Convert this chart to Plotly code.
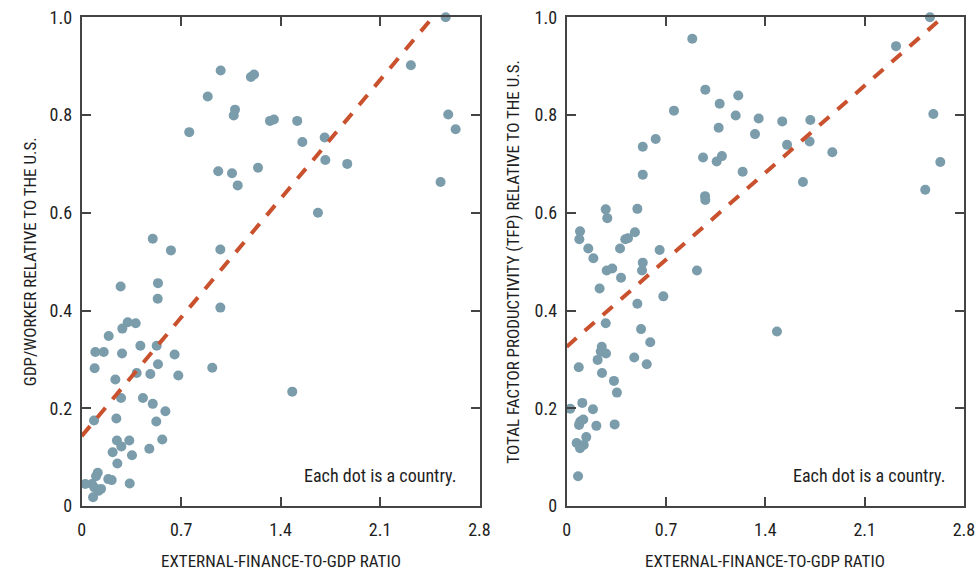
import plotly.graph_objects as go

# ---- data ----
gdp_x = [2.562, 2.317, 2.58, 2.632, 2.526, 0.978, 0.887, 0.757, 1.191, 1.213,
         1.079, 1.07, 1.325, 1.353, 1.517, 1.553, 1.71, 1.715, 1.869, 0.961,
         1.058, 1.098, 1.241, 1.663, 0.5, 0.628, 0.976, 0.274, 0.537, 0.535,
         0.976, 0.324, 0.38, 0.286, 0.19, 0.096, 0.155, 0.284, 0.413, 0.528,
         0.654, 0.091, 0.537, 0.919, 0.68, 0.387, 0.483, 0.237, 0.277, 0.431,
         1.482, 0.5, 0.589, 0.087, 0.244, 0.525, 0.248, 0.335, 0.567, 0.279,
         0.218, 0.476, 0.354, 0.251, 0.113, 0.101, 0.187, 0.211, 0.338, 0.025,
         0.072, 0.089, 0.136, 0.117, 0.08]
gdp_y = [1.0, 0.902, 0.801, 0.771, 0.663, 0.891, 0.838, 0.765, 0.878, 0.883,
         0.811, 0.799, 0.788, 0.791, 0.788, 0.745, 0.754, 0.708, 0.700, 0.685,
         0.681, 0.656, 0.692, 0.600, 0.547, 0.523, 0.525, 0.449, 0.456, 0.424,
         0.406, 0.376, 0.374, 0.363, 0.348, 0.315, 0.315, 0.312, 0.328, 0.328,
         0.310, 0.282, 0.290, 0.283, 0.267, 0.272, 0.270, 0.259, 0.221, 0.221,
         0.234, 0.209, 0.194, 0.175, 0.179, 0.173, 0.134, 0.134, 0.136, 0.122,
         0.110, 0.117, 0.104, 0.087, 0.068, 0.061, 0.055, 0.053, 0.046, 0.045,
         0.045, 0.038, 0.035, 0.031, 0.018]

tfp_x = [2.56, 2.321, 2.584, 2.633, 2.527, 0.885, 0.977, 1.209, 1.078, 0.756,
         1.191, 1.353, 1.519, 1.717, 1.071, 1.327, 0.627, 0.536, 1.553, 1.712,
         1.872, 0.961, 1.057, 1.094, 1.24, 0.536, 1.665, 0.975, 0.977, 0.275,
         0.286, 0.498, 0.094, 0.089, 0.152, 0.376, 0.413, 0.432, 0.481, 0.655,
         0.188, 0.536, 0.531, 0.282, 0.321, 0.918, 0.383, 0.232, 0.681, 0.498,
         0.275, 0.524, 1.482, 0.589, 0.247, 0.24, 0.277, 0.218, 0.476, 0.564,
         0.085, 0.249, 0.333, 0.354, 0.11, 0.025, 0.185, 0.117, 0.096, 0.087,
         0.209, 0.338, 0.138, 0.07, 0.12, 0.094, 0.08]
tfp_y = [1.0, 0.941, 0.802, 0.704, 0.647, 0.956, 0.852, 0.840, 0.823, 0.809,
         0.799, 0.793, 0.787, 0.790, 0.774, 0.761, 0.751, 0.735, 0.739, 0.746,
         0.724, 0.713, 0.705, 0.716, 0.684, 0.678, 0.663, 0.634, 0.626, 0.607,
         0.589, 0.608, 0.562, 0.546, 0.527, 0.527, 0.546, 0.548, 0.560, 0.524,
         0.507, 0.498, 0.482, 0.482, 0.486, 0.482, 0.467, 0.445, 0.429, 0.414,
         0.374, 0.362, 0.357, 0.335, 0.326, 0.316, 0.312, 0.299, 0.304, 0.290,
         0.284, 0.272, 0.256, 0.232, 0.211, 0.199, 0.198, 0.177, 0.173, 0.166,
         0.164, 0.167, 0.141, 0.129, 0.125, 0.118, 0.061]

trend_gdp_x = [0.0, 2.47]
trend_gdp_y = [0.143, 1.0]
trend_tfp_x = [0.0, 2.63]
trend_tfp_y = [0.326, 0.995]

x_ticks = [0, 0.7, 1.4, 2.1, 2.8]
x_tick_labels = ["0", "0.7", "1.4", "2.1", "2.8"]
y_ticks = [0, 0.2, 0.4, 0.6, 0.8, 1.0]
y_tick_labels = ["0", "0.2", "0.4", "0.6", "0.8", "1.0"]

x_title = "EXTERNAL-FINANCE-TO-GDP RATIO"
y_title_left = "GDP/WORKER RELATIVE TO THE U.S."
y_title_right = "TOTAL FACTOR PRODUCTIVITY (TFP) RELATIVE TO THE U.S."
note = "Each dot is a country."

# ---- styling ----
FONT = "Liberation Sans Narrow, Arial Narrow, Roboto Condensed, sans-serif"
DOT = "#7a9cab"
LINE = "#c9512e"
AX = "#444444"
TXT = "#1e1e1e"

W, H = 977, 576
lx0, lx1 = 81.7 / W, 479.5 / W
rx0, rx1 = 566.7 / W, 964.0 / W
yb, yt = (H - 506) / H, (H - 17.3) / H

fig = go.Figure()
fig.add_trace(go.Scatter(x=gdp_x, y=gdp_y, mode="markers", xaxis="x", yaxis="y",
                         marker=dict(color=DOT, size=10), cliponaxis=False, showlegend=False))
fig.add_trace(go.Scatter(x=trend_gdp_x, y=trend_gdp_y, mode="lines", xaxis="x", yaxis="y",
                         line=dict(color=LINE, width=4, dash="13px,11px"), showlegend=False))
fig.add_trace(go.Scatter(x=tfp_x, y=tfp_y, mode="markers", xaxis="x2", yaxis="y2",
                         marker=dict(color=DOT, size=10), cliponaxis=False, showlegend=False))
fig.add_trace(go.Scatter(x=trend_tfp_x, y=trend_tfp_y, mode="lines", xaxis="x2", yaxis="y2",
                         line=dict(color=LINE, width=4, dash="13px,11px"), showlegend=False))

tick_font = dict(family=FONT, size=18, color=TXT, weight="normal")

def xax(domain, anchor):
    return dict(domain=domain, anchor=anchor, range=[0, 2.8], tickvals=x_ticks,
                ticktext=x_tick_labels, ticks="inside", ticklen=9, tickwidth=1.5,
                tickcolor=AX, showline=True, linecolor=AX, linewidth=2, mirror="allticks",
                showgrid=False, zeroline=False, tickfont=tick_font, ticklabelstandoff=6)

def yax(anchor):
    return dict(domain=[yb, yt], anchor=anchor, range=[0, 1.0], tickvals=y_ticks,
                ticktext=y_tick_labels, ticks="inside", ticklen=9, tickwidth=1.5,
                tickcolor=AX, showline=True, linecolor=AX, linewidth=2, mirror="allticks",
                showgrid=False, zeroline=False, tickfont=tick_font, ticklabelstandoff=4)

fig.update_layout(
    width=W, height=H, margin=dict(l=0, r=0, t=0, b=0, autoexpand=False),
    paper_bgcolor="white", plot_bgcolor="white",
    xaxis=xax([lx0, lx1], "y"), yaxis=yax("x"),
    xaxis2=xax([rx0, rx1], "y2"), yaxis2=yax("x2"),
    font=dict(family=FONT, size=17, color=TXT, weight="normal"),
)

ann = [
    dict(text=x_title, x=(lx0 + lx1) / 2, y=(H - 561) / H, xref="paper", yref="paper",
         showarrow=False, xanchor="center", yanchor="middle"),
    dict(text=x_title, x=(rx0 + rx1) / 2, y=(H - 561) / H, xref="paper", yref="paper",
         showarrow=False, xanchor="center", yanchor="middle"),
    dict(text=y_title_left, x=29.5 / W, y=(yb + yt) / 2, xref="paper", yref="paper",
         showarrow=False, textangle=-90, xanchor="center", yanchor="middle"),
    dict(text=y_title_right, x=513 / W, y=(yb + yt) / 2, xref="paper", yref="paper",
         showarrow=False, textangle=-90, xanchor="center", yanchor="middle"),
    dict(text=note, x=2.65, y=0.062, xref="x", yref="y", showarrow=False,
         xanchor="right", yanchor="middle", font=dict(size=18)),
    dict(text=note, x=2.68, y=0.062, xref="x2", yref="y2", showarrow=False,
         xanchor="right", yanchor="middle", font=dict(size=18)),
]
fig.update_layout(annotations=ann)

fig.write_html("out.html")
